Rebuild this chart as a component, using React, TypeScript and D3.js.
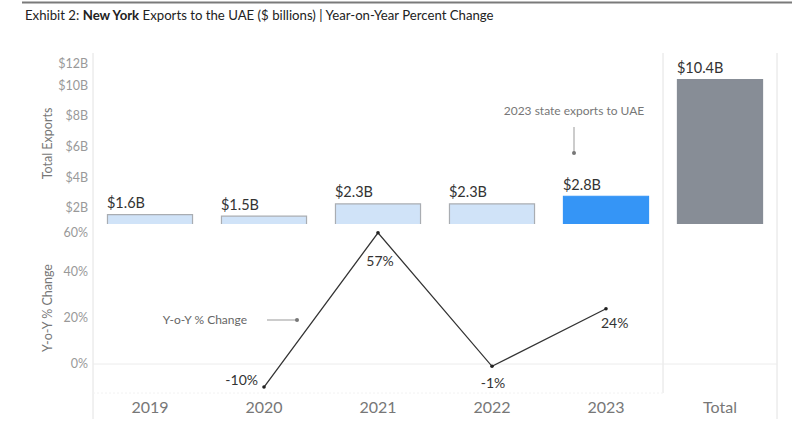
import React from "react";
import * as d3 from "d3";

const categories = ["2019", "2020", "2021", "2022", "2023", "Total"];
const exportsB = [1.6, 1.5, 2.3, 2.3, 2.8, 10.4];
const exportLabels = ["$1.6B", "$1.5B", "$2.3B", "$2.3B", "$2.8B", "$10.4B"];
const yoyYears = ["2020", "2021", "2022", "2023"];
const yoyValues = [-10, 57, -1, 24];
const yoyLabels = ["-10%", "57%", "-1%", "24%"];
const exportTicks = [2, 4, 6, 8, 10, 12];
const yoyTicks = [0, 20, 40, 60];

const W = 811;
const H = 429;
const FONT = "Lato, 'Open Sans', sans-serif";

const left = 93;
const right = 777;
const topTop = 53;
const topBottom = 224;
const botTop = 225;
const botBottom = 393;

export default function App() {
  const x = d3.scaleBand<string>().domain(categories).range([left, right]);
  const bw = x.bandwidth() * 0.755;
  const yTop = d3.scaleLinear().domain([0.96, 12.1]).range([topBottom, topTop]);
  const yBot = d3.scaleLinear().domain([-12.6, 60.4]).range([botBottom, botTop]);
  const cx = (c: string) => (x(c) as number) + x.bandwidth() / 2;

  const line = d3
    .line<number>()
    .x((_, i) => cx(yoyYears[i]))
    .y((d) => yBot(d));

  const fills = categories.map((c) =>
    c === "Total" ? "#878d96" : c === "2023" ? "#3595f6" : "#d0e3f8"
  );
  const strokes = categories.map((c) =>
    c === "Total" ? "#878d96" : c === "2023" ? "#3595f6" : "#a9adb2"
  );

  // label placement styles: [dx, dy, anchor]
  const yoyLabelStyle: [number, number, string][] = [
    [-6, -7, "end"],
    [2, 28, "middle"],
    [1, 17, "middle"],
    [-5, 14, "start"],
  ];

  const total = x("Total") as number;

  return (
    <svg
      width={W}
      height={H}
      style={{ position: "absolute", left: 0, top: 0, background: "#fff" }}
      fontFamily={FONT}
    >
      {/* top rule and title */}
      <line x1={22} x2={792} y1={2.5} y2={2.5} stroke="#7a7a7a" strokeWidth={2} />
      <text x={25} y={19.5} fontSize={13.2} fill="#222">
        Exhibit 2: <tspan fontWeight="bold">New York</tspan> Exports to the UAE ($ billions) | Year-on-Year Percent Change
      </text>

      {/* frame lines */}
      <line x1={left} x2={left} y1={topTop} y2={419} stroke="#e2e2e2" />
      <line x1={right} x2={right} y1={topTop} y2={419} stroke="#e2e2e2" />
      <line x1={total} x2={total} y1={topTop} y2={botBottom} stroke="#e2e2e2" />
      <line x1={left} x2={right} y1={yBot(0)} y2={yBot(0)} stroke="#ececec" />
      <line x1={left} x2={total} y1={botBottom} y2={botBottom} stroke="#f2f2f2" strokeDasharray="2,2" />

      {/* top axis */}
      {exportTicks.map((t) => (
        <text
          key={"et" + t}
          x={88}
          y={Math.max(yTop(t), topTop + 11)}
          dy="0.35em"
          textAnchor="end"
          fontSize={12.5}
          fill="#999"
        >
          {"$" + t + "B"}
        </text>
      ))}
      <text
        transform={`translate(52,${(topTop + topBottom) / 2 + 5}) rotate(-90)`}
        textAnchor="middle"
        fontSize={12.5}
        fill="#777"
      >
        Total Exports
      </text>

      {/* bars */}
      {categories.map((c, i) => {
        const bx = cx(c) - bw / 2;
        const by = yTop(exportsB[i]);
        return (
          <g key={"b" + c}>
            <path
              d={`M${bx + 0.5},${topBottom} V${by + 0.5} H${bx + bw - 0.5} V${topBottom}`}
              fill={fills[i]}
              stroke={strokes[i]}
              strokeWidth={1.2}
            />
            <text x={bx} y={by - 6} fontSize={14.5} fill="#333">
              {exportLabels[i]}
            </text>
          </g>
        );
      })}

      {/* annotation top */}
      <text x={574} y={111} dy="0.35em" textAnchor="middle" fontSize={12} fill="#777">
        2023 state exports to UAE
      </text>
      <line x1={574} x2={574} y1={127} y2={153} stroke="#999" />
      <circle cx={574} cy={153} r={2} fill="#777" />

      {/* bottom axis */}
      {yoyTicks.map((t) => (
        <text
          key={"yt" + t}
          x={88}
          y={Math.max(yBot(t), botTop + 8)}
          dy="0.35em"
          textAnchor="end"
          fontSize={12.5}
          fill="#999"
        >
          {t + "%"}
        </text>
      ))}
      <text
        transform={`translate(52,${308}) rotate(-90)`}
        textAnchor="middle"
        fontSize={12.5}
        fill="#777"
      >
        Y-o-Y % Change
      </text>

      {/* line */}
      <path d={line(yoyValues) || ""} fill="none" stroke="#333" strokeWidth={1.3} />
      {yoyValues.map((v, i) => (
        <g key={"p" + i}>
          <circle cx={cx(yoyYears[i])} cy={yBot(v)} r={1.8} fill="#222" />
          <text
            x={cx(yoyYears[i]) + yoyLabelStyle[i][0]}
            y={yBot(v) + yoyLabelStyle[i][1]}
            dy="0.35em"
            textAnchor={yoyLabelStyle[i][2]}
            fontSize={14}
            fill="#333"
          >
            {yoyLabels[i]}
          </text>
        </g>
      ))}

      {/* annotation bottom */}
      <text x={247} y={320} dy="0.35em" textAnchor="end" fontSize={12} fill="#666">
        Y-o-Y % Change
      </text>
      <line x1={267} x2={297} y1={320} y2={320} stroke="#999" />
      <circle cx={297} cy={320} r={2} fill="#777" />

      {/* x labels */}
      {categories.map((c) => (
        <text
          key={"x" + c}
          x={cx(c)}
          y={407}
          dy="0.35em"
          textAnchor="middle"
          fontSize={16}
          fill="#777"
        >
          {c}
        </text>
      ))}
    </svg>
  );
}
